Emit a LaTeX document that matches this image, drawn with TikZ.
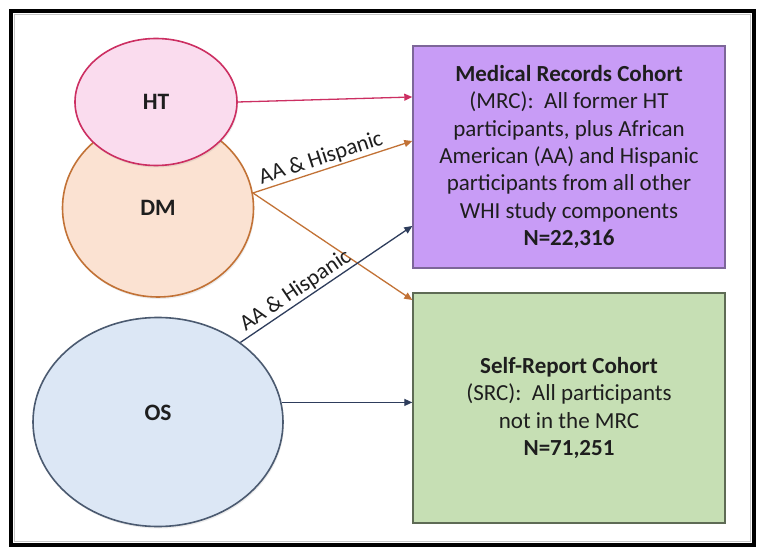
\documentclass[tikz,border=0pt]{standalone}
\usepackage{fontspec}
\setmainfont{Carlito}
\usetikzlibrary{shapes.geometric,arrows.meta,shadows}
\definecolor{htfill}{HTML}{FADCEE}
\definecolor{htline}{HTML}{CC2F62}
\definecolor{dmfill}{HTML}{FBE2D2}
\definecolor{dmline}{HTML}{C27236}
\definecolor{osfill}{HTML}{DCE7F5}
\definecolor{osline}{HTML}{4B5A70}
\definecolor{osarrow}{HTML}{2E3D5C}
\definecolor{mrcfill}{HTML}{C89CF6}
\definecolor{mrcline}{HTML}{7D6699}
\definecolor{srcfill}{HTML}{C6DFB4}
\definecolor{srcline}{HTML}{5E6B55}
\definecolor{txt}{HTML}{1E1E1E}
\begin{document}
\begin{tikzpicture}[x=1pt,y=-1pt,
  cohort/.style={ellipse, line width=1.6pt, text=txt, inner sep=0pt,
    font=\fontsize{23.5}{27}\selectfont\bfseries,
    drop shadow={opacity=0.15, shadow xshift=1pt, shadow yshift=-2pt}},
  cohorttext/.style={text=txt, inner sep=0pt, font=\fontsize{23.5}{27}\selectfont\bfseries},
  cbox/.style={rectangle, line width=1.4pt, text=txt, align=center, inner sep=0pt,
    font=\fontsize{23}{27.3}\selectfont},
  link/.style={line width=1.3pt, -{Triangle[length=8pt,width=7pt]}},
  lbl/.style={font=\fontsize{22.5}{26}\selectfont, text=txt, sloped, above, inner sep=1.5pt}]
\fill[white] (0,0) rectangle (760,548);
\useasboundingbox (0,0) rectangle (760,548);
\draw[gray!45, line width=1.5pt] (14.5,14.5) rectangle (750.5,541.5);
\draw[line width=3.5pt] (11,11) rectangle (754,545);

\node[cohort, draw=dmline, fill=dmfill, minimum width=191pt, minimum height=178pt] (DM) at (158,208) {DM};
\node[cohort, draw=htline, fill=htfill, minimum width=162pt, minimum height=127pt] (HT) at (156,102) {HT};
\node[cohort, draw=osline, fill=osfill, minimum width=250pt, minimum height=209pt,
  label={[cohorttext, yshift=9pt]center:OS}] (OS) at (158,422) {};

\node[cbox, draw=mrcline, fill=mrcfill, minimum width=312pt, minimum height=222pt] (MRC) at (569,157)
  {\textbf{Medical Records Cohort}\\(MRC):\ \ All former HT\\participants, plus African\\American (AA) and Hispanic\\participants from all other\\WHI study components\\\textbf{N=22,316}};
\node[cbox, draw=srcline, fill=srcfill, minimum width=312pt, minimum height=230pt] (SRC) at (569,408)
  {\textbf{Self-Report Cohort}\\(SRC):\ \ All participants\\not in the MRC\\\textbf{N=71,251}};

\draw[link, htline] (HT.east) -- ([yshift=60pt]MRC.west);
\draw[link, dmline] (DM.9) -- ([yshift=16pt]MRC.west) node[lbl, pos=0.45] {AA \& Hispanic};
\draw[link, dmline] (DM.9) -- ([yshift=108pt]SRC.west);
\draw[link, osarrow] (OS.44) -- ([yshift=-69pt]MRC.west) node[lbl, pos=0.36] {AA \& Hispanic};
\draw[link, osarrow] (OS.9) -- (OS.9 -| SRC.west);
\end{tikzpicture}
\end{document}
